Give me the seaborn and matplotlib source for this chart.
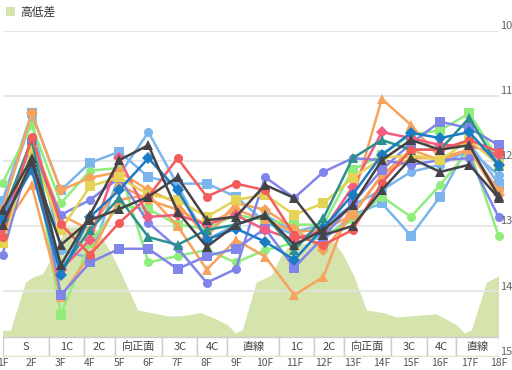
import matplotlib
matplotlib.use("Agg")
import matplotlib.pyplot as plt
from matplotlib.patches import Rectangle
import pandas as pd
import seaborn as sns

# furlong labels
furlongs = [f"{i}F" for i in range(1, 19)]

# lap times per horse (sec)
lap_ltblue_sq = [12.61, 11.27, 12.45, 12.03, 11.86, 12.25, 12.35, 12.35, 12.55, 12.94, 13.14, 13.21, 12.83, 12.65, 13.15, 12.55, 11.73, 12.35]
lap_ltblue_ci = [12.68, 11.37, 13.37, 13.49, 12.22, 11.56, 12.37, 13.21, 12.98, 12.83, 13.09, 12.98, 12.68, 12.45, 12.17, 12.06, 11.83, 12.22]
lap_dark_a = [12.98, 12.02, 13.29, 12.91, 12.74, 12.55, 12.25, 12.91, 12.86, 12.37, 12.57, 13.14, 13.00, 12.45, 11.96, 12.17, 12.06, 12.57]
lap_dark_b = [12.75, 11.96, 13.60, 12.83, 11.99, 11.76, 12.78, 13.32, 12.98, 12.83, 13.29, 13.06, 12.68, 11.99, 11.68, 11.83, 11.76, 12.54]
lap_green_ci = [12.34, 11.45, 12.65, 12.15, 12.11, 13.56, 13.46, 13.37, 13.56, 13.37, 13.26, 13.15, 12.91, 12.55, 12.86, 12.37, 11.83, 13.15]
lap_green_sq = [12.91, 11.68, 14.36, 13.26, 12.68, 12.74, 12.98, 13.04, 12.83, 12.91, 12.98, 12.98, 12.14, 11.91, 11.60, 11.53, 11.27, 11.99]
lap_orange_di = [12.75, 11.27, 12.45, 12.26, 12.17, 12.45, 12.65, 13.17, 12.65, 12.75, 13.04, 13.37, 12.83, 12.22, 11.83, 11.99, 11.83, 12.52]
lap_orange_tr = [13.06, 12.37, 14.09, 13.44, 12.60, 12.52, 13.00, 13.67, 13.21, 13.47, 14.06, 13.78, 12.60, 11.05, 11.45, 11.96, 11.83, 12.55]
lap_orange_ci = [12.88, 11.68, 12.83, 13.06, 12.37, 12.60, 12.75, 12.98, 12.75, 12.91, 13.09, 13.06, 12.83, 12.22, 11.96, 11.96, 11.83, 12.45]
lap_purple_sq = [12.95, 11.73, 14.06, 13.56, 13.35, 13.35, 13.66, 13.46, 13.35, 13.04, 13.64, 13.17, 12.65, 12.14, 11.73, 11.40, 11.50, 11.76]
lap_purple_ci = [13.44, 11.83, 12.83, 12.60, 12.26, 12.95, 13.34, 13.87, 13.66, 12.25, 12.57, 12.17, 11.96, 11.99, 12.06, 11.99, 11.96, 12.86]
lap_pink_di = [13.06, 12.06, 13.67, 13.21, 11.96, 12.86, 12.83, 12.98, 12.83, 13.06, 13.21, 13.06, 12.40, 11.56, 11.65, 11.76, 11.76, 11.91]
lap_yellow_sq = [13.26, 11.83, 13.06, 12.39, 12.25, 12.52, 12.60, 12.86, 12.60, 12.52, 12.83, 12.65, 12.26, 11.96, 11.91, 11.99, 11.68, 12.06]
lap_teal_tr = [12.83, 11.68, 13.67, 13.06, 12.57, 13.17, 13.29, 13.06, 12.98, 12.83, 13.37, 12.88, 11.96, 11.68, 11.83, 11.83, 11.34, 12.08]
lap_red_ci = [13.17, 11.63, 12.97, 13.44, 12.95, 12.55, 11.96, 12.55, 12.35, 12.45, 13.14, 13.29, 13.06, 12.34, 11.83, 11.83, 11.68, 11.86]
lap_blue_di = [12.91, 12.14, 13.75, 12.86, 12.45, 11.96, 12.45, 13.21, 13.04, 13.24, 13.52, 13.03, 12.52, 11.91, 11.57, 11.65, 11.56, 12.06]

# course elevation profile (position in furlong index, metres)
elev_pos = [0, 0.27, 0.79, 1.06, 1.37, 1.58, 1.88, 2.16, 3.12, 3.36, 3.70, 4.04, 4.63, 4.97, 5.65, 6.10, 6.79,
            7.23, 7.71, 7.98, 8.22, 8.70, 9.22, 9.56, 9.84, 10.66, 11.34, 11.62, 12.03, 12.47, 13.06, 13.50,
            14.87, 15.56, 15.83, 16.07, 16.59, 17.0]
elev_m = [1.0, 1.0, 2.85, 3.05, 3.16, 3.58, 4.20, 4.96, 4.96, 4.66, 4.0, 3.24, 1.78, 1.70, 1.55, 1.55, 1.67,
          1.48, 1.21, 0.90, 1.02, 2.85, 3.12, 3.89, 4.27, 4.35, 4.39, 4.0, 3.12, 1.78, 1.67, 1.51,
          1.63, 1.21, 0.90, 1.02, 2.85, 3.08]

# course sections shown under the chart
section_names = ["S", "1C", "2C", "向正面", "3C", "4C", "直線", "1C", "2C", "向正面", "3C", "4C", "直線"]
section_edges = [0, 1.61, 2.81, 3.84, 5.48, 6.68, 7.68, 9.49, 10.69, 11.69, 13.33, 14.56, 15.53, 17.0]

series = {
    "h01": (lap_ltblue_sq, "#7cb5ec", "s"),
    "h02": (lap_ltblue_ci, "#7cb5ec", "o"),
    "h03": (lap_green_ci, "#90ed7d", "o"),
    "h04": (lap_green_sq, "#90ed7d", "s"),
    "h05": (lap_orange_di, "#f7a35c", "D"),
    "h06": (lap_orange_tr, "#f7a35c", "^"),
    "h07": (lap_orange_ci, "#f7a35c", "o"),
    "h08": (lap_purple_sq, "#8085e9", "s"),
    "h09": (lap_purple_ci, "#8085e9", "o"),
    "h10": (lap_pink_di, "#f15c80", "D"),
    "h11": (lap_yellow_sq, "#e4d354", "s"),
    "h12": (lap_teal_tr, "#2b908f", "^"),
    "h13": (lap_red_ci, "#f45b5b", "o"),
    "h14": (lap_blue_di, "#1b7bc4", "D"),
    "h15": (lap_dark_a, "#434348", "^"),
    "h16": (lap_dark_b, "#434348", "^"),
}

rows = []
for name, (laps, col, mk) in series.items():
    for i, v in enumerate(laps):
        rows.append({"horse": name, "pos": i, "lap": v})
df = pd.DataFrame(rows)
palette = {k: v[1] for k, v in series.items()}
markers = {k: v[2] for k, v in series.items()}

sns.set_theme(style="white")
plt.rcParams["font.family"] = ["Noto Sans CJK JP", "DejaVu Sans"]

fig = plt.figure(figsize=(5.12, 3.7), dpi=100)
ax = fig.add_axes([2.5 / 512, 13.7 / 370, 496 / 512, 325.8 / 370])
ax2 = ax.twinx()
ax.set_zorder(ax2.get_zorder() + 1)
ax.patch.set_visible(False)

# elevation area
ax2.fill_between(elev_pos, 0, elev_m, color="#d5e3ad", lw=0, label="高低差")
ax2.set_ylim(0, 12.49)
ax2.set_yticks([])
for s in ax2.spines.values():
    s.set_visible(False)

sns.lineplot(data=df, x="pos", y="lap", hue="horse", style="horse", markers=markers,
             dashes=False, palette=palette, estimator=None, sort=False, legend=False,
             lw=1.8, markersize=6.5, mew=0, clip_on=False, ax=ax)

ax.set_xlim(0, 17)
ax.set_ylim(15, 10)
ax.set_yticks([10, 11, 12, 13, 14, 15])
ax.set_yticklabels([])
ax.grid(axis="y", color="#e3e3e3", lw=1.2)
ax.tick_params(axis="y", length=0)
ax.set_xticks(range(18))
ax.set_xticklabels(furlongs, fontsize=7.5, color="#555555")
ax.tick_params(axis="x", length=0, pad=1.5)
ax.set_xlabel("")
ax.set_ylabel("")
for s in ax.spines.values():
    s.set_visible(False)

# y labels on the right, drawn slightly above the gridlines
for v in [10, 11, 12, 13, 14, 15]:
    ax.annotate(str(v), xy=(1, v), xycoords=("axes fraction", "data"),
                xytext=(1.2, 3.3), textcoords="offset points",
                ha="left", va="center", fontsize=8, color="#666666")

# section table
for name, x0, x1 in zip(section_names, section_edges[:-1], section_edges[1:]):
    ax.add_patch(Rectangle((x0, 14.71), x1 - x0, 0.29, facecolor="white",
                           edgecolor="#cccccc", lw=1, zorder=5))
    ax.text((x0 + x1) / 2, 14.85, name, ha="center", va="center",
            fontsize=8, color="#444444", zorder=6)

ax2.legend(loc="upper left", bbox_to_anchor=(0, 1), bbox_transform=fig.transFigure,
           frameon=False, fontsize=8.5, handlelength=0.8, handleheight=0.8,
           handletextpad=0.4, borderaxespad=0.1, labelcolor="#333333")

fig.savefig("out.png", dpi=100)
